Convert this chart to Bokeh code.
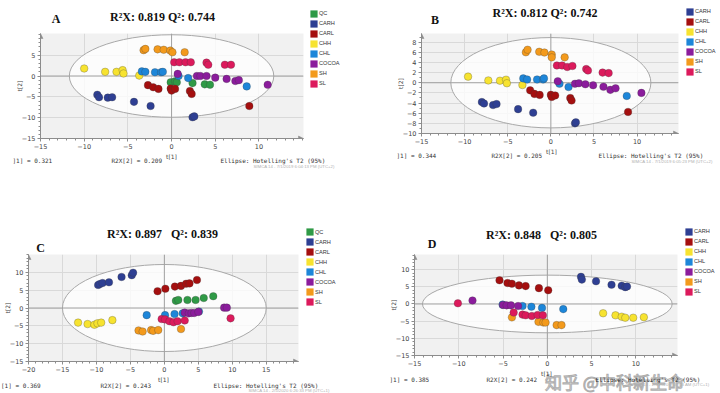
import math
from bokeh.plotting import figure
from bokeh.models import Range1d, Label, Arrow, NormalHead, FixedTicker, Legend, LegendItem
from bokeh.layouts import column, row
from bokeh.core.properties import value
from bokeh.embed import file_html
from bokeh.resources import INLINE

# ---------------- data (t[1], t[2]) ----------------
GROUPS_QC = ["QC", "CARH", "CARL", "CHH", "CHL", "COCOA", "SH", "SL"]
GROUPS_NOQC = ["CARH", "CARL", "CHH", "CHL", "COCOA", "SH", "SL"]
COLORS = {"QC": "#2f9a46", "CARH": "#2e3f93", "CARL": "#a50f0f", "CHH": "#f7e330",
          "CHL": "#1d86d9", "COCOA": "#8b1c9c", "SH": "#f39a1c", "SL": "#dc1a5c"}

A_QC = [(-0.1, -1.5), (0.4, -1.3), (0.6, -1.5), (2.4, -1.7), (3.8, -2.0), (4.4, -2.1)]
A_CARH = [(-8.5, -4.5), (-8.3, -5.1), (-7.3, -5.2), (-6.8, -5.1), (-4.3, -6.2), (-2.4, -7.2), (2.4, -9.9), (2.6, -9.7)]
A_CARL = [(-2.7, -2.2), (-2.1, -2.7), (-1.5, -3.1), (-0.1, -3.0), (0.0, -3.5), (0.4, -3.1), (2.1, -3.6), (2.3, -4.3), (8.9, -7.2)]
A_CHH = [(-10.0, 1.8), (-7.6, 1.0), (-6.3, 1.0), (-5.6, 1.4), (-5.5, 0.6), (-3.7, 0.1)]
A_CHL = [(-3.4, 1.1), (-3.0, 1.0), (-1.9, 0.9), (-1.2, 0.9), (-1.0, 1.0), (0.8, 0.0), (1.9, -0.5), (8.6, -2.5)]
A_COCOA = [(0.7, 0.5), (2.9, 0.0), (3.3, 0.0), (4.0, 0.0), (5.0, -0.4), (6.3, -0.7), (7.3, -1.2), (7.7, -1.0), (11.0, -2.1)]
A_SH = [(-3.2, 6.2), (-3.0, 6.5), (-1.6, 6.4), (-0.9, 6.3), (-0.15, 6.1), (0.1, 5.7), (1.5, 5.7)]
A_SL = [(0.3, 3.3), (0.9, 3.3), (1.6, 3.3), (2.2, 3.3), (4.0, 3.2), (4.2, 2.7), (6.1, 2.7), (6.8, 2.7)]

B_CARH = [(-8.0, -3.8), (-7.75, -4.1), (-6.7, -4.4), (-6.3, -4.2), (-3.8, -5.2), (-2.05, -5.9), (2.8, -8.0), (2.9, -7.8)]
B_CARL = [(-2.4, -1.5), (-1.9, -2.2), (-1.3, -2.4), (0.0, -2.4), (0.1, -2.8), (0.5, -2.5), (2.25, -3.0), (2.4, -3.5), (8.95, -5.75)]
B_CHH = [(-9.6, 1.2), (-7.25, 0.45), (-5.9, 0.4), (-5.2, 0.6), (-5.1, -0.1), (-3.3, -0.45)]
B_CHL = [(-3.2, 0.85), (-2.75, 0.65), (-1.6, 0.65), (-0.9, 0.65), (-0.8, 0.85), (1.0, -0.2), (2.05, -0.85), (8.8, -2.6)]
B_COCOA = [(0.8, 0.3), (2.8, -0.2), (3.25, -0.1), (4.0, -0.3), (4.9, -0.5), (6.1, -0.8), (6.9, -1.4), (7.5, -1.1), (10.5, -2.0)]
B_SH = [(-2.9, 6.0), (-2.7, 6.5), (-1.35, 6.1), (-0.75, 5.95), (0.1, 5.55), (0.1, 5.0), (1.6, 5.0)]
B_SL = [(0.7, 3.4), (1.3, 3.4), (1.9, 3.1), (2.5, 3.3), (4.1, 2.7), (4.3, 2.4), (6.0, 2.0), (6.7, 1.9)]

C_QC = [(1.7, 2.0), (2.05, 2.25), (3.4, 2.25), (4.6, 2.25), (5.8, 2.8), (7.2, 3.3)]
C_CARH = [(-9.75, 6.45), (-9.5, 6.7), (-9.1, 7.0), (-8.15, 7.2), (-6.3, 8.7), (-4.8, 9.2), (-4.6, 9.9)]
C_CARL = [(-1.0, 4.7), (0.15, 5.4), (1.55, 6.0), (2.45, 6.2), (3.2, 6.8), (3.7, 6.9), (4.8, 7.85)]
C_CHH = [(-12.7, -4.1), (-11.3, -4.5), (-10.3, -4.7), (-9.85, -4.3), (-9.3, -4.1), (-7.65, -3.4)]
C_CHL = [(-2.6, -2.0), (0.1, -2.0), (1.5, -1.7), (2.7, -1.5), (5.1, -1.0)]
C_COCOA = [(3.0, -1.3), (3.6, -1.5), (4.0, -1.4), (4.4, -1.4), (5.0, -1.1), (8.8, 0.1), (9.2, 0.1)]
C_SH = [(-3.8, -6.3), (-3.2, -6.6), (-1.95, -6.2), (-1.65, -6.4), (-0.9, -6.2), (2.45, -5.9)]
C_SL = [(-0.4, -3.1), (0.1, -3.2), (0.75, -3.7), (1.35, -4.0), (1.95, -3.7), (3.0, -3.5), (9.75, -2.9)]

D_CARH = [(3.8, 7.9), (3.9, 7.1), (5.5, 6.6), (7.25, 5.6), (8.4, 5.3), (8.8, 4.9), (9.0, 5.1)]
D_CARL = [(-5.4, 6.9), (-4.5, 6.1), (-4.0, 5.9), (-3.2, 5.4), (-2.45, 5.2), (-0.95, 4.6), (0.1, 4.0)]
D_CHH = [(6.3, -2.7), (7.7, -3.3), (8.4, -3.7), (8.8, -4.0), (9.7, -4.0), (10.9, -3.85)]
D_CHL = [(-5.05, -0.2), (-2.8, -0.6), (-1.8, -0.8), (-0.6, -1.15), (1.8, -1.5)]
D_COCOA = [(-8.45, 1.0), (-5.0, -0.3), (-4.6, -0.4), (-4.1, -0.4), (-3.3, -0.6)]
D_SH = [(-4.0, -3.9), (-1.0, -5.2), (-0.45, -5.4), (-0.2, -5.4), (1.05, -6.15), (1.6, -6.15)]
D_SL = [(-10.1, 0.2), (-3.8, -2.5), (-2.8, -3.1), (-2.45, -3.3), (-1.75, -3.5), (-1.1, -3.2), (-0.5, -3.3)]

# Hotelling's T2 (95%) ellipse semi-axes (t[1], t[2])
ELLIPSE_A = (11.7, 9.9)
ELLIPSE_B = (11.6, 8.9)
ELLIPSE_C = (15.0, 12.2)
ELLIPSE_D = (14.1, 8.4)

LETTERS = ["A", "B", "C", "D"]
TITLES = ["R²X: 0.819 Q²: 0.744", "R²X: 0.812 Q²: 0.742",
          "R²X: 0.897 \u00a0 Q²: 0.839", "R²X: 0.848 \u00a0 Q²: 0.805"]
R2X1 = ["]1] = 0.321", "]1] = 0.344", "[1] = 0.369", "]1] = 0.385"]
R2X2 = ["R2X[2] = 0.209", "R2X[2] = 0.205", "R2X[2] = 0.243", "R2X[2] = 0.242"]
STAMPS = ["SIMCA 14 - 7/1/2019 6:04:13 PM (UTC+2)", "SIMCA 14 - 7/1/2019 6:05:23 PM (UTC+2)",
          "SIMCA 14 - 2/5/2020 6:26:33 PM (UTC+1)", "SIMCA 14 - 2/6/2020 9:07:03 AM (UTC+1)"]
ELLIPSE_TXT = "Ellipse: Hotelling's T2 (95%)"
WATERMARK = "知乎 @中科新生命"

AXIS_C = "#8c8c8c"
MONO = "DejaVu Sans Mono"


def blank_fig(w, h):
    f = figure(width=w, height=h, x_range=Range1d(0, w), y_range=Range1d(0, h),
               x_axis_type=None, y_axis_type=None, output_backend="svg", toolbar_location=None,
               min_border_left=0, min_border_right=0, min_border_top=0, min_border_bottom=0)
    f.title.visible = False
    f.outline_line_color = None
    f.background_fill_color = "white"
    f.border_fill_color = "white"
    return f


def put(f, x, y, text, size, font="Liberation Sans", style="normal", color="#333333",
        align="left", angle=0.0, **kw):
    # x from the frame's left edge, y up from its bottom edge
    f.add_layout(Label(x=x, y=y, x_units="screen", y_units="screen", text=text,
                       text_font=font, text_font_size=size, text_font_style=style,
                       text_color=color, text_align=align, text_baseline="middle",
                       angle=angle, **kw))


def plot_fig(cfg):
    w, h, bl, br, bb = cfg["box"]
    xr, yr = cfg["xr"], cfg["yr"]
    p = figure(width=w, height=h, x_range=Range1d(*xr), y_range=Range1d(*yr),
               output_backend="svg", toolbar_location=None,
               min_border_left=bl, min_border_right=br, min_border_top=0, min_border_bottom=bb)
    p.title.visible = False
    p.outline_line_color = None
    p.background_fill_color = "#f1f1f1"
    p.border_fill_color = "white"
    p.grid.grid_line_color = "#d9d9d9"

    p.xaxis.ticker = FixedTicker(ticks=cfg["xt"], minor_ticks=cfg["xminor"])
    p.yaxis.ticker = FixedTicker(ticks=cfg["yt"], minor_ticks=cfg["yminor"])
    for ax in (p.xaxis, p.yaxis):
        ax.axis_line_color = AXIS_C
        ax.major_tick_line_color = AXIS_C
        ax.minor_tick_line_color = AXIS_C
        ax.major_tick_out = 3
        ax.major_tick_in = 0
        ax.minor_tick_out = 2
        ax.minor_tick_in = 0
        ax.major_label_text_font = "DejaVu Sans"
        ax.major_label_text_font_size = "6.5px"
        ax.major_label_text_color = "#444444"
        ax.major_label_standoff = 2
    p.yaxis.axis_label = "t[2]"
    p.yaxis.axis_label_standoff = -4
    p.yaxis.axis_label_text_font = "DejaVu Sans"
    p.yaxis.axis_label_text_font_size = "6px"
    p.yaxis.axis_label_text_font_style = "normal"
    p.yaxis.axis_label_text_color = "#444444"

    ea, eb = cfg["ell"]
    p.ellipse(x=[0], y=[0], width=[2 * ea], height=[2 * eb], fill_color="white",
              fill_alpha=0.78, line_color="#a8a8a8", line_width=1)
    p.segment(x0=[xr[0]], y0=[0], x1=[xr[1]], y1=[0], line_color="#a0a0a0", line_width=1)
    p.segment(x0=[0], y0=[yr[0]], x1=[0], y1=[yr[1]], line_color="#a0a0a0", line_width=1)

    for g, pts in cfg["series"]:
        p.scatter(x=[q[0] for q in pts], y=[q[1] for q in pts], size=7.6, marker="circle",
                  fill_color=COLORS[g], line_color="#3a3a3a", line_alpha=0.35, line_width=0.8)

    p.add_layout(Arrow(end=NormalHead(size=5, fill_color=AXIS_C, line_color=AXIS_C, line_width=0.5),
                       x_start=xr[1] - 0.3, y_start=yr[0], x_end=xr[1], y_end=yr[0],
                       line_color=AXIS_C, line_width=1))
    p.add_layout(Arrow(end=NormalHead(size=5, fill_color=AXIS_C, line_color=AXIS_C, line_width=0.5),
                       x_start=xr[0], y_start=yr[1] - 0.3, x_end=xr[0], y_end=yr[1],
                       line_color=AXIS_C, line_width=1))
    return p


def legend_fig(cfg):
    w, h, vx, vy = cfg["legbox"]
    f = blank_fig(w, h)
    items = []
    for g, _ in cfg["series"]:
        # swatch-only renderer, kept outside the visible range of this legend-only figure
        r = f.quad(left=[-20], right=[-19], top=[-19], bottom=[-20], fill_color=COLORS[g],
                   line_color=None)
        items.append(LegendItem(label=value(g), renderers=[r]))
    leg = Legend(items=items, location=(vx, vy), orientation="vertical",
                 glyph_width=9, glyph_height=9, label_height=9, label_width=10,
                 spacing=1, padding=0, margin=0, label_standoff=1,
                 label_text_font="Liberation Sans", label_text_font_size="5.6px",
                 label_text_color="#333333", border_line_alpha=0, background_fill_alpha=0)
    f.add_layout(leg)
    return f


def top_fig(cfg, i):
    w, h, lx, ly, tx, ty = cfg["topbox"]
    f = blank_fig(w, h)
    put(f, lx, ly, LETTERS[i], "12px", font="Liberation Serif", style="bold", color="#111111",
        align="center")
    put(f, tx, ty, TITLES[i], "12px", font="Liberation Serif", style="bold", color="#111111",
        align="center")
    return f


def foot_fig(cfg, i):
    w, h, t1x, t1y, f1, f2, f3, fy, sx, sy = cfg["footbox"]
    f = blank_fig(w, h)
    if "wm" in cfg:
        wx, wy = cfg["wm"]
        put(f, wx, wy, WATERMARK, "17px", font="Noto Sans CJK SC", color="#f4f4f4",
            align="center", text_alpha=0.8, text_outline_color="#9a9a9a")
    put(f, t1x, t1y, "t[1]", "6px", font="DejaVu Sans", color="#444444", align="center")
    put(f, f1, fy, R2X1[i], "6px", font=MONO)
    put(f, f2, fy, R2X2[i], "6px", font=MONO)
    put(f, f3, fy, ELLIPSE_TXT, "6px", font=MONO)
    put(f, sx, sy, STAMPS[i], "4.3px", color="#b0b0b0")
    return f


def panel(cfg, i):
    top = top_fig(cfg, i)
    plot = plot_fig(cfg)
    leg = legend_fig(cfg)
    foot = foot_fig(cfg, i)
    return column(row(column(top, plot), leg), foot)


def minor(a, b):
    return list(range(a, b + 1))


cfgA = dict(box=(305, 119, 40, 2, 14), xr=(-15, 15.1), yr=(-15, 10.2),
            xt=[-15, -10, -5, 0, 5, 10], yt=[-15, -10, -5, 0, 5],
            xminor=minor(-15, 15), yminor=minor(-15, 10), ell=ELLIPSE_A,
            series=list(zip(GROUPS_QC, [A_QC, A_CARH, A_CARL, A_CHH, A_CHL, A_COCOA, A_SH, A_SL])),
            topbox=(305, 33, 15.5, 15, 122, 17),
            legbox=(55, 152, 4, 64.5),
            footbox=(360, 44, 171, 40.5, 12, 111, 220, 36, 253, 30.5))
cfgB = dict(box=(324, 114, 61, 6, 14), xr=(-15, 14.8), yr=(-10, 9.7),
            xt=[-15, -10, -5, 0, 5, 10], yt=[-10, -8, -6, -4, -2, 0, 2, 4, 6, 8],
            xminor=minor(-15, 14), yminor=minor(-10, 9), ell=ELLIPSE_B,
            series=list(zip(GROUPS_NOQC, [B_CARH, B_CARL, B_CHH, B_CHL, B_COCOA, B_SH, B_SL])),
            topbox=(324, 33, 13.5, 14, 123.5, 21),
            legbox=(36, 147, 1, 71.5),
            footbox=(360, 49, 191, 45.5, 36, 131, 238, 41, 271, 35.5))
cfgC = dict(box=(300, 121, 27, 2, 14), xr=(-20, 19.75), yr=(-15, 15),
            xt=[-20, -15, -10, -5, 0, 5, 10, 15], yt=[-15, -10, -5, 0, 5, 10],
            xminor=minor(-20, 19), yminor=minor(-15, 15), ell=ELLIPSE_C,
            series=list(zip(GROUPS_QC, [C_QC, C_CARH, C_CARL, C_CHH, C_CHL, C_COCOA, C_SH, C_SL])),
            topbox=(300, 58, 12, 6.5, 134, 21),
            legbox=(60, 179, 5, 68.8),
            footbox=(360, 18, 163, 14, 0.5, 100, 213, 8, 248, 3.5))
cfgD = dict(box=(320, 115, 54, 3, 14), xr=(-15, 14.7), yr=(-15, 14.4),
            xt=[-15, -10, -5, 0, 5, 10], yt=[-15, -10, -5, 0, 5, 10],
            xminor=minor(-15, 14), yminor=minor(-15, 14), ell=ELLIPSE_D,
            series=list(zip(GROUPS_NOQC, [D_CARH, D_CARL, D_CHH, D_CHL, D_COCOA, D_SH, D_SL])),
            topbox=(320, 58, 17.5, 11, 127, 20),
            legbox=(40, 173, 4, 73.5),
            footbox=(360, 24, 186, 20, 29, 126, 235, 14, 268, 9.5),
            wm=(254, 12.5))

layout = column(row(panel(cfgA, 0), panel(cfgB, 1)), row(panel(cfgC, 2), panel(cfgD, 3)))

open("out.html", "w").write(file_html(layout, INLINE))
